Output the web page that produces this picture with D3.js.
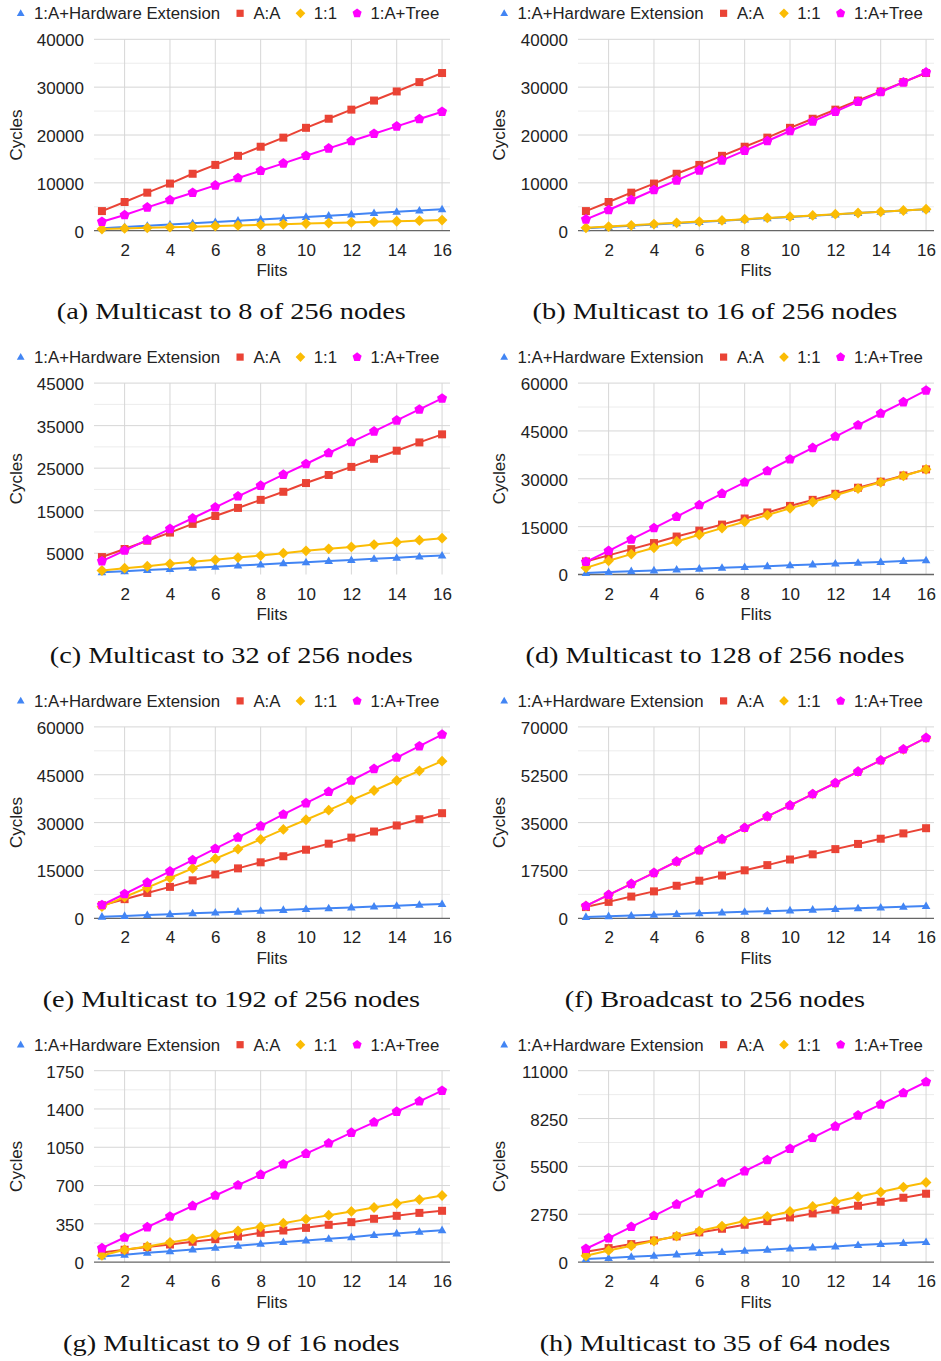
<!DOCTYPE html>
<html>
<head>
<meta charset="utf-8">
<script src="https://cdn.jsdelivr.net/npm/d3@7"></script>
<style>
  body { margin: 0; background: #fff; }
</style>
</head>
<body>
<svg id="chart"></svg>
<script>
// Page size
const width = 941;
const height = 1361;

// Shared categories and legend
const flits = [1, 2, 3, 4, 5, 6, 7, 8, 9, 10, 11, 12, 13, 14, 15, 16];
const seriesNames = ["1:A+Hardware Extension", "A:A", "1:1", "1:A+Tree"];
const seriesColors = ["#4285f4", "#ea4335", "#fbbc04", "#ff00ff"];
const seriesShapes = ["triangle", "square", "diamond", "pentagon"];

// 256-node system: series shared by panels a-f
const hw256 = [500, 760, 1030, 1290, 1560, 1820, 2090, 2350, 2620, 2880, 3150, 3410, 3680, 3940, 4210, 4470];
const aa256 = [4100, 6000, 7950, 9850, 11900, 13750, 15650, 17550, 19450, 21500, 23400, 25300, 27200, 29100, 31050, 32950];

// (a) 8 of 256
const one8 = [350, 480, 600, 730, 850, 980, 1100, 1230, 1350, 1480, 1600, 1730, 1850, 1980, 2100, 2230];
const tree8 = [1880, 3270, 4880, 6410, 7940, 9470, 11010, 12540, 14070, 15670, 17200, 18740, 20270, 21800, 23340, 24870];
// (b) 16 of 256
const one16 = [600, 860, 1120, 1380, 1640, 1900, 2150, 2410, 2670, 2930, 3190, 3450, 3700, 3960, 4220, 4480];
const tree16 = [2370, 4320, 6410, 8500, 10510, 12610, 14700, 16720, 18740, 20830, 22850, 24870, 26960, 28980, 30990, 33080];
// (c) 32 of 256
const one32 = [940, 1490, 1960, 2500, 2970, 3440, 3990, 4460, 5010, 5560, 6030, 6490, 7040, 7590, 8060, 8530];
const tree32 = [3130, 5630, 8140, 10720, 13220, 15800, 18390, 20890, 23470, 25980, 28560, 31140, 33650, 36230, 38810, 41390];
// (d) 128 of 256
const one128 = [2090, 4290, 6390, 8380, 10370, 12460, 14550, 16540, 18640, 20730, 22720, 24820, 26910, 28900, 30890, 32980];
const tree128 = [3980, 7430, 10990, 14550, 18120, 21780, 25340, 28900, 32460, 36130, 39690, 43250, 46810, 50470, 54030, 57700];
// (e) 192 of 256
const one192 = [3650, 6680, 9600, 12630, 15650, 18680, 21700, 24730, 27860, 30890, 33910, 37040, 40070, 43200, 46230, 49250];
const tree192 = [4170, 7620, 11170, 14710, 18260, 21810, 25360, 28900, 32560, 36100, 39650, 43200, 46850, 50400, 53950, 57600];
// (f) broadcast to 256 (1:1 lies under 1:A+Tree)
const one256 = [4520, 8550, 12580, 16610, 20770, 24920, 28950, 33110, 37260, 41290, 45440, 49480, 53630, 57780, 61810, 65970];
const tree256 = [4520, 8550, 12580, 16610, 20770, 24920, 28950, 33110, 37260, 41290, 45440, 49480, 53630, 57780, 61810, 65970];
// (g) 9 of 16
const hw9of16 = [52, 67, 85, 100, 116, 131, 149, 167, 183, 198, 213, 228, 247, 262, 277, 292];
const aa9of16 = [88, 113, 137, 161, 186, 210, 234, 268, 289, 313, 341, 365, 396, 423, 450, 469];
const one9of16 = [61, 113, 143, 180, 213, 250, 286, 323, 356, 393, 429, 463, 499, 536, 572, 609];
const tree9of16 = [128, 225, 320, 417, 514, 609, 703, 800, 895, 992, 1086, 1184, 1278, 1376, 1470, 1567];
// (h) 35 of 64
const hw35of64 = [172, 230, 307, 364, 441, 517, 575, 652, 709, 786, 843, 900, 977, 1035, 1092, 1150];
const aa35of64 = [594, 805, 1035, 1246, 1476, 1706, 1916, 2146, 2357, 2568, 2798, 3009, 3239, 3469, 3699, 3929];
const one35of64 = [364, 671, 939, 1207, 1495, 1782, 2070, 2357, 2625, 2913, 3200, 3469, 3756, 4024, 4312, 4580];
const tree35of64 = [767, 1380, 2030, 2660, 3315, 3950, 4580, 5230, 5865, 6515, 7150, 7800, 8430, 9065, 9715, 10350];

// Axis ticks
const xTicks = [2, 4, 6, 8, 10, 12, 14, 16];
const ticks40k = [0, 10000, 20000, 30000, 40000];
const minor40k = [5000, 15000, 25000, 35000];
const ticks45k = [5000, 15000, 25000, 35000, 45000];
const minor45k = [10000, 20000, 30000, 40000];
const ticks60k = [0, 15000, 30000, 45000, 60000];
const minor60k = [7500, 22500, 37500, 52500];
const ticks70k = [0, 17500, 35000, 52500, 70000];
const minor70k = [8750, 26250, 43750, 61250];
const ticks1750 = [0, 350, 700, 1050, 1400, 1750];
const minor1750 = [175, 525, 875, 1225, 1575];
const ticks11k = [0, 2750, 5500, 8250, 11000];
const minor11k = [1375, 4125, 6875, 9625];

const captions = [
    "(a) Multicast to 8 of 256 nodes",
    "(b) Multicast to 16 of 256 nodes",
    "(c) Multicast to 32 of 256 nodes",
    "(d) Multicast to 128 of 256 nodes",
    "(e) Multicast to 192 of 256 nodes",
    "(f) Broadcast to 256 nodes",
    "(g) Multicast to 9 of 16 nodes",
    "(h) Multicast to 35 of 64 nodes"
];

// Panel table built from the arrays above
const panels = [
    { series: [hw256, aa256, one8, tree8], yMax: 40000, ticks: ticks40k, minor: minor40k, baseline: true },
    { series: [hw256, aa256, one16, tree16], yMax: 40000, ticks: ticks40k, minor: minor40k, baseline: true },
    { series: [hw256, aa256, one32, tree32], yMax: 45000, ticks: ticks45k, minor: minor45k, baseline: false },
    { series: [hw256, aa256, one128, tree128], yMax: 60000, ticks: ticks60k, minor: minor60k, baseline: true },
    { series: [hw256, aa256, one192, tree192], yMax: 60000, ticks: ticks60k, minor: minor60k, baseline: true },
    { series: [hw256, aa256, one256, tree256], yMax: 70000, ticks: ticks70k, minor: minor70k, baseline: true },
    { series: [hw9of16, aa9of16, one9of16, tree9of16], yMax: 1750, ticks: ticks1750, minor: minor1750, baseline: true },
    { series: [hw35of64, aa35of64, one35of64, tree35of64], yMax: 11000, ticks: ticks11k, minor: minor11k, baseline: true }
];
panels.forEach((p, i) => p.caption = captions[i]);

// Layout
const sansFont = "'Liberation Sans', Arial, sans-serif";
const serifFont = "'Liberation Serif', 'Times New Roman', serif";
const colStep = 484;
const rowStep = 343.8;
const plotW = 356;
const plotH = 191.4;

const svg = d3.select("#chart")
    .attr("width", width)
    .attr("height", height)
    .style("font-family", sansFont);

// Marker shapes, centred on 0,0
function shapePath(kind) {
    if (kind === "triangle") return "M0,-4.6L4.3,3L-4.3,3Z";
    if (kind === "square") return "M-4,-4H4V4H-4Z";
    if (kind === "diamond") return "M0,-5.4L5.4,0L0,5.4L-5.4,0Z";
    const r = 5.3;
    const pts = d3.range(5).map(k => {
        const a = -Math.PI / 2 + k * 2 * Math.PI / 5;
        return [r * Math.cos(a), r * Math.sin(a)];
    });
    return "M" + pts.join("L") + "Z";
}

panels.forEach((panel, i) => {
    const col = i % 2;
    const row = Math.floor(i / 2);
    const left = 94 + col * colStep;
    const top = 39.3 + row * rowStep;
    const g = svg.append("g");

    const x = d3.scaleLinear().domain([0.65, 16.35]).range([left, left + plotW]);
    const y = d3.scaleLinear().domain([0, panel.yMax]).range([top + plotH, top]);

    // Legend
    const legend = g.append("g");
    let lx = 20.7 + col * 483.5;
    seriesNames.forEach((name, s) => {
        legend.append("path")
            .attr("d", shapePath(seriesShapes[s]))
            .attr("transform", `translate(${lx},${top - 26}) scale(0.9)`)
            .attr("fill", seriesColors[s]);
        const t = legend.append("text")
            .attr("x", lx + 13.3)
            .attr("y", top - 20)
            .attr("font-size", 16.8)
            .attr("fill", "#222")
            .text(name);
        lx = lx + 13.3 + t.node().getComputedTextLength() + 20;
    });

    // Minor gridlines
    g.selectAll(".minor")
        .data(panel.minor)
        .enter().append("line")
        .attr("x1", left).attr("x2", left + plotW)
        .attr("y1", d => y(d)).attr("y2", d => y(d))
        .attr("stroke", "#ececec").attr("stroke-width", 1);

    // Major horizontal gridlines
    g.selectAll(".major")
        .data(panel.ticks.filter(d => d > 0))
        .enter().append("line")
        .attr("x1", left).attr("x2", left + plotW)
        .attr("y1", d => y(d)).attr("y2", d => y(d))
        .attr("stroke", "#d6d6d6").attr("stroke-width", 1);

    // Vertical gridlines
    g.selectAll(".vgrid")
        .data(xTicks)
        .enter().append("line")
        .attr("x1", d => x(d)).attr("x2", d => x(d))
        .attr("y1", top).attr("y2", top + plotH)
        .attr("stroke", "#d6d6d6").attr("stroke-width", 1);

    // Baseline
    if (panel.baseline) {
        g.append("line")
            .attr("x1", left).attr("x2", left + plotW)
            .attr("y1", y(0)).attr("y2", y(0))
            .attr("stroke", "#666").attr("stroke-width", 1.3);
    }

    // Y axis labels
    const yAxis = d3.axisLeft(y).tickValues(panel.ticks).tickSize(0).tickPadding(10).tickFormat(d3.format("d"));
    g.append("g")
        .attr("transform", `translate(${left},1)`)
        .call(yAxis)
        .call(a => a.select(".domain").remove())
        .selectAll("text")
        .attr("font-size", 17)
        .attr("font-family", sansFont)
        .attr("fill", "#222");

    // X axis labels
    const xAxis = d3.axisBottom(x).tickValues(xTicks).tickSize(0).tickPadding(13);
    g.append("g")
        .attr("transform", `translate(0,${top + plotH})`)
        .call(xAxis)
        .call(a => a.select(".domain").remove())
        .selectAll("text")
        .attr("font-size", 17)
        .attr("font-family", sansFont)
        .attr("fill", "#222");

    // Axis titles
    g.append("text")
        .attr("x", left + plotW / 2)
        .attr("y", top + plotH + 45.5)
        .attr("text-anchor", "middle")
        .attr("font-size", 17)
        .attr("fill", "#222")
        .text("Flits");
    g.append("text")
        .attr("transform", `translate(${21.5 + col * 483.5},${top + plotH / 2}) rotate(-90)`)
        .attr("text-anchor", "middle")
        .attr("font-size", 17)
        .attr("fill", "#222")
        .text("Cycles");

    // Lines and markers
    const line = d3.line().x((d, k) => x(flits[k])).y(d => y(d));
    panel.series.forEach((values, s) => {
        g.append("path")
            .datum(values)
            .attr("d", line)
            .attr("fill", "none")
            .attr("stroke", seriesColors[s])
            .attr("stroke-width", 2);
        g.selectAll(".pt" + s)
            .data(values)
            .enter().append("path")
            .attr("d", shapePath(seriesShapes[s]))
            .attr("transform", (d, k) => `translate(${x(flits[k])},${y(d)})`)
            .attr("fill", seriesColors[s]);
    });

    // Caption
    g.append("text")
        .attr("transform", `translate(${231.3 + col * 483.7},${top + plotH + 88.6}) scale(1.18,1)`)
        .attr("text-anchor", "middle")
        .attr("font-family", serifFont)
        .attr("font-size", 24)
        .attr("fill", "#111")
        .text(panel.caption);
});
</script>
</body>
</html>
